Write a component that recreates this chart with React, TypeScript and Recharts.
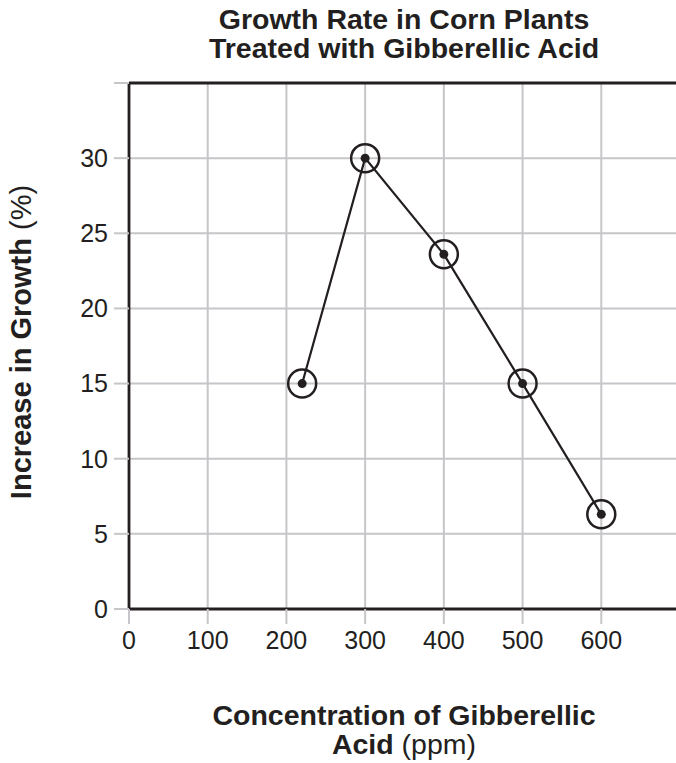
import React from "react";
import {
  LineChart,
  Line,
  XAxis,
  YAxis,
  CartesianGrid,
  ReferenceLine,
} from "recharts";

// concentration of gibberellic acid (ppm)
const concentrations = [220, 300, 400, 500, 600];
// increase in growth (%)
const growthValues = [15, 30, 23.6, 15, 6.3];

const xTicks = [0, 100, 200, 300, 400, 500, 600];
const yTicks = [0, 5, 10, 15, 20, 25, 30, 35];

const data = concentrations.map((c, i) => ({ conc: c, growth: growthValues[i] }));

const ink = "#231f20";
const gridGray = "#c6c6ca";
const font = "'Liberation Sans', Arial, Helvetica, sans-serif";

const RingDot = (props: any) => {
  const { cx, cy, index } = props;
  if (cx == null || cy == null) return null;
  return (
    <g key={`dot-${index}`}>
      <circle cx={cx} cy={cy} r={14} fill="none" stroke={ink} strokeWidth={2.5} />
      <circle cx={cx} cy={cy} r={4.5} fill={ink} />
    </g>
  );
};

const App = () => {
  return (
    <div
      style={{
        position: "absolute",
        left: 0,
        top: 0,
        width: 676,
        height: 763,
        overflow: "hidden",
        background: "#fff",
        fontFamily: font,
        color: ink,
      }}
    >
      <div
        style={{
          position: "absolute",
          left: 104,
          width: 600,
          top: 5,
          textAlign: "center",
          fontWeight: "bold",
          fontSize: 28.5,
          lineHeight: "29px",
          whiteSpace: "nowrap",
        }}
      >
        Growth Rate in Corn Plants
        <br />
        Treated with Gibberellic Acid
      </div>

      <div
        style={{
          position: "absolute",
          left: 21,
          top: 342,
          transform: "translate(-50%, -50%) rotate(-90deg)",
          whiteSpace: "nowrap",
          fontSize: 29,
          lineHeight: "29px",
        }}
      >
        <b>Increase in Growth</b> (%)
      </div>

      <div
        style={{
          position: "absolute",
          left: 104,
          width: 600,
          top: 701,
          textAlign: "center",
          fontSize: 28.5,
          lineHeight: "29px",
          whiteSpace: "nowrap",
        }}
      >
        <b>Concentration of Gibberellic</b>
        <br />
        <b>Acid</b> (ppm)
      </div>

      <div style={{ position: "absolute", left: 0, top: 0 }}>
        <LineChart
          width={680}
          height={763}
          data={data}
          margin={{ top: 83, right: 0, left: 0, bottom: 0 }}
        >
          <CartesianGrid stroke={gridGray} strokeWidth={2} />
          <XAxis
            type="number"
            dataKey="conc"
            domain={[0, 700]}
            ticks={xTicks}
            allowDataOverflow
            height={154}
            axisLine={{ stroke: ink, strokeWidth: 2.8 }}
            tickLine={{ stroke: gridGray, strokeWidth: 2 }}
            tickSize={15}
            tickMargin={7}
            tick={{ fill: ink, fontSize: 25, fontFamily: font }}
          />
          <YAxis
            type="number"
            domain={[0, 35]}
            ticks={yTicks}
            allowDataOverflow
            width={129}
            axisLine={{ stroke: ink, strokeWidth: 2.8 }}
            tickLine={{ stroke: gridGray, strokeWidth: 2 }}
            tickSize={15}
            tickMargin={6}
            tickFormatter={(v: number) => (v === 35 ? "" : String(v))}
            tick={{ fill: ink, fontSize: 25, fontFamily: font }}
          />
          <ReferenceLine y={35} stroke={ink} strokeWidth={2.8} />
          <Line
            type="linear"
            dataKey="growth"
            stroke={ink}
            strokeWidth={2.2}
            dot={RingDot}
            activeDot={false}
            isAnimationActive={false}
          />
        </LineChart>
      </div>
    </div>
  );
};

export default App;
